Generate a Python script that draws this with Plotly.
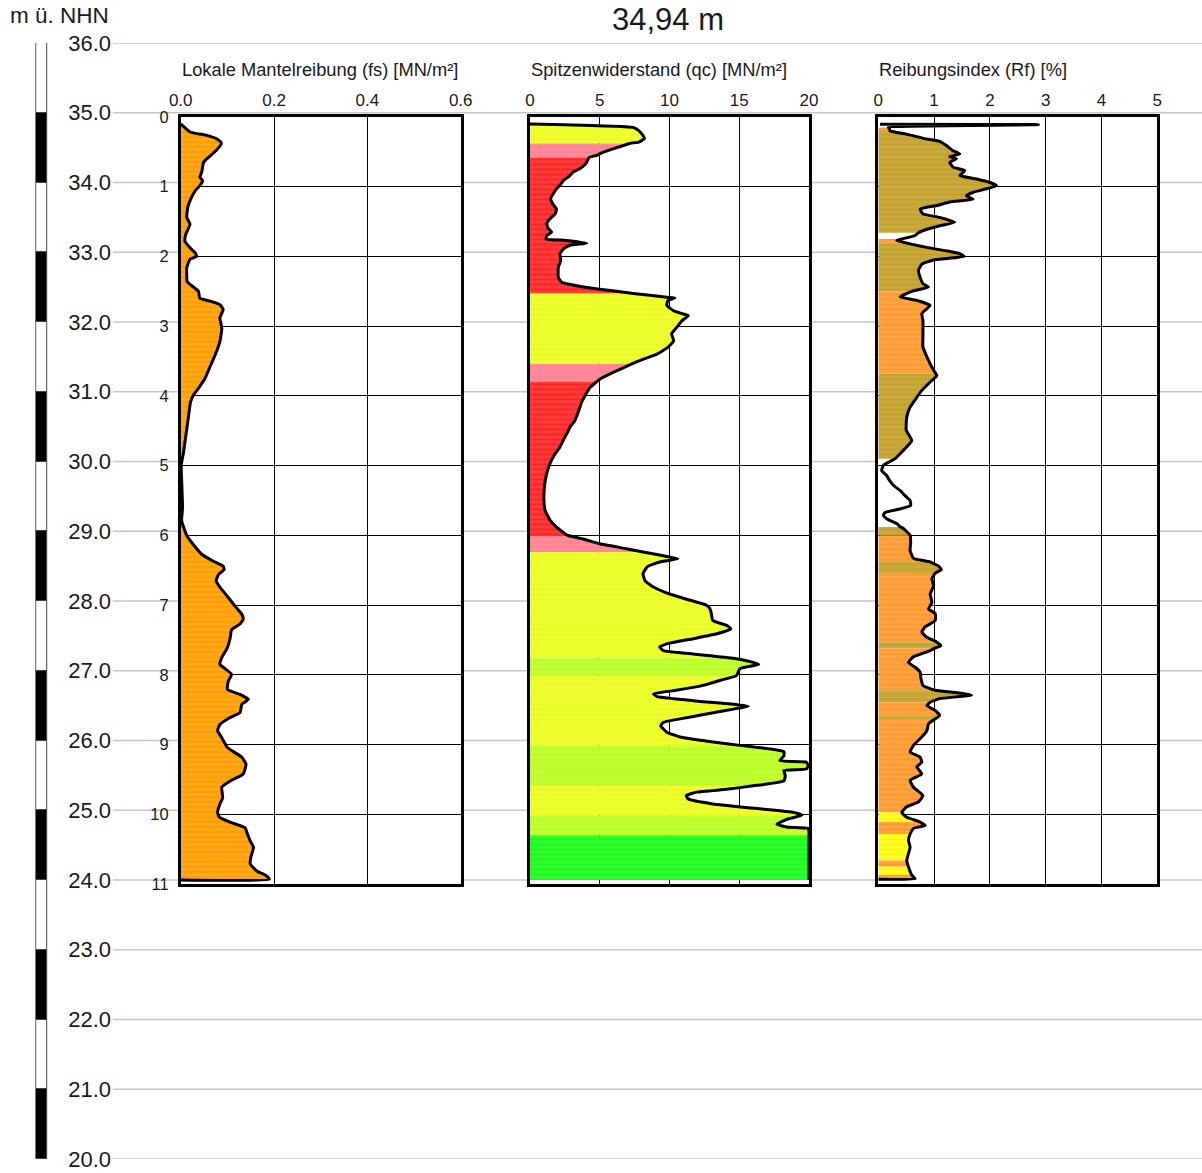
import plotly.graph_objects as go

W, H = 1202, 1173
FONT = "Liberation Sans, Arial, sans-serif"
TXT = "#1a1a1a"

# ---------------- data ----------------
ground_elev = 34.94
max_depth = 11
elev_ticks = list(range(20, 37))
scale_bases = list(range(35, 19, -1))          # 1 m segments 36-35 ... 21-20
scale_colors = ["white" if i % 2 == 0 else "black" for i in range(len(scale_bases))]
depth_ticks = list(range(0, 12))

fs_ticks = [0.0, 0.2, 0.4, 0.6]
qc_ticks = [0, 5, 10, 15, 20]
rf_ticks = [0, 1, 2, 3, 4, 5]

fs_depth = [0.10, 0.216, 0.264, 0.313, 0.36, 0.385, 0.48, 0.60, 0.65, 0.79, 0.865, 0.913, 0.986, 1.058,
            1.20, 1.30, 1.44, 1.54, 1.68, 1.78, 1.875, 1.95, 2.0, 2.04, 2.16, 2.36, 2.40, 2.50, 2.60,
            2.64, 2.69, 2.76, 2.88, 3.03, 3.22, 3.41, 3.61, 3.75, 3.89, 3.99, 4.09, 4.33, 4.57, 4.81,
            5.0, 5.2, 5.4, 5.6, 5.79, 6.0, 6.13, 6.27, 6.37, 6.44, 6.49, 6.56, 6.65, 6.75, 6.89, 7.01,
            7.13, 7.20, 7.27, 7.35, 7.47, 7.61, 7.75, 7.85, 7.89, 7.99, 8.09, 8.21, 8.28, 8.35, 8.42,
            8.54, 8.61, 8.71, 8.80, 8.90, 9.04, 9.18, 9.28, 9.42, 9.52, 9.61, 9.76, 9.85, 9.97, 10.04,
            10.11, 10.19, 10.28, 10.38, 10.47, 10.62, 10.71, 10.81, 10.88, 10.93, 10.94]
fs_val = [0.0, 0.02, 0.056, 0.077, 0.086, 0.087, 0.076, 0.056, 0.049, 0.045, 0.041, 0.047, 0.041, 0.031,
          0.02, 0.015, 0.013, 0.02, 0.011, 0.009, 0.02, 0.031, 0.034, 0.02, 0.013, 0.014, 0.02, 0.038, 0.041,
          0.063, 0.084, 0.091, 0.084, 0.088, 0.084, 0.074, 0.061, 0.052, 0.038, 0.027, 0.021, 0.016, 0.011, 0.006,
          0.001, 0.002, 0.003, 0.004, 0.002, 0.013, 0.027, 0.045, 0.07, 0.091, 0.093, 0.081, 0.076, 0.085, 0.102, 0.116,
          0.131, 0.134, 0.127, 0.109, 0.106, 0.1, 0.088, 0.084, 0.091, 0.109, 0.102, 0.1, 0.127, 0.145, 0.131,
          0.127, 0.106, 0.084, 0.079, 0.088, 0.1, 0.131, 0.14, 0.134, 0.106, 0.088, 0.09, 0.084, 0.079, 0.083,
          0.106, 0.138, 0.143, 0.149, 0.156, 0.15, 0.149, 0.163, 0.184, 0.19, 0.0]

qc_depth = [0.10, 0.15, 0.19, 0.24, 0.31, 0.36, 0.38, 0.455, 0.52, 0.55, 0.58, 0.67, 0.74, 0.79, 0.86, 0.91,
            0.98, 1.03, 1.10, 1.17, 1.245, 1.32, 1.39, 1.46, 1.53, 1.60, 1.65, 1.70, 1.75, 1.77, 1.81, 1.84,
            1.89, 1.96, 2.06, 2.15, 2.30, 2.37, 2.42, 2.47, 2.53, 2.585, 2.595, 2.63, 2.70, 2.78, 2.82, 2.85,
            2.92, 3.02, 3.11, 3.21, 3.30, 3.40, 3.49, 3.54, 3.66, 3.76, 3.80, 3.88, 4.0, 4.09, 4.21, 4.36,
            4.445, 4.50, 4.59, 4.73, 4.83, 4.97, 5.11, 5.31, 5.50, 5.64, 5.78, 5.88, 6.00, 6.05, 6.12, 6.19,
            6.24, 6.31, 6.335, 6.38, 6.45, 6.55, 6.65, 6.74, 6.84, 6.93, 7.0, 7.05, 7.12, 7.22, 7.29, 7.34,
            7.41, 7.48, 7.555, 7.60, 7.65, 7.70, 7.76, 7.82, 7.85, 7.91, 8.01, 8.08, 8.15, 8.22, 8.27, 8.31,
            8.34, 8.38, 8.42, 8.45, 8.49, 8.56, 8.63, 8.68, 8.73, 8.82, 8.89, 8.97, 9.01, 9.06, 9.10, 9.16,
            9.23, 9.25, 9.30, 9.35, 9.37, 9.445, 9.52, 9.59, 9.64, 9.68, 9.73, 9.78, 9.85, 9.92, 9.97, 10.01,
            10.07, 10.14, 10.18, 10.20, 10.25, 10.30, 10.94]
qc_val = [0.0, 7.4, 7.75, 8.0, 8.2, 7.8, 7.15, 6.0, 5.1, 4.8, 4.25, 4.0, 3.6, 3.1, 2.75, 2.4,
          2.15, 1.9, 1.67, 1.48, 1.62, 1.9, 1.8, 1.43, 1.2, 1.31, 1.55, 1.2, 1.15, 2.6, 4.06, 2.87,
          2.4, 2.15, 2.2, 2.03, 2.03, 2.27, 3.35, 5.0, 7.4, 9.8, 10.4, 9.9, 9.8, 10.3, 10.9, 11.35,
          10.9, 10.5, 10.15, 10.3, 9.9, 9.1, 7.9, 7.3, 6.0, 5.0, 4.75, 4.3, 3.94, 3.7, 3.5, 3.2,
          2.87, 2.75, 2.5, 2.15, 1.8, 1.43, 1.2, 1.03, 1.0, 1.08, 1.43, 1.9, 2.7, 3.8, 5.0, 6.9,
          8.2, 10.0, 10.6, 9.3, 8.4, 8.1, 8.25, 8.85, 10.0, 11.5, 12.65, 12.9, 13.0, 13.1, 14.1, 14.4,
          13.4, 11.7, 9.8, 9.3, 9.56, 11.7, 14.6, 16.0, 16.4, 15.05, 14.8, 13.6, 12.4, 10.5, 8.85, 9.1,
          10.3, 12.2, 14.6, 15.65, 14.6, 12.65, 10.75, 9.56, 9.37, 9.8, 10.75, 13.4, 15.05, 17.2, 18.2, 18.2,
          17.9, 19.8, 19.95, 19.8, 18.2, 18.3, 18.2, 16.0, 14.1, 11.95, 11.2, 11.35, 13.1, 16.5, 18.9, 19.5,
          18.4, 17.7, 18.4, 19.95, 20.0, 20.0, 20.0]

rf_depth = [0.105, 0.11, 0.15, 0.17, 0.20, 0.246, 0.317, 0.35, 0.41, 0.485, 0.53, 0.57, 0.60, 0.65, 0.72,
            0.77, 0.84, 0.89, 0.94, 0.986, 1.03, 1.08, 1.13, 1.18, 1.22, 1.27, 1.32, 1.39, 1.44, 1.51, 1.56,
            1.61, 1.66, 1.70, 1.75, 1.77, 1.82, 1.87, 1.92, 1.96, 2.0, 2.05, 2.11, 2.20, 2.30, 2.39, 2.44,
            2.50, 2.58, 2.63, 2.70, 2.75, 2.82, 2.92, 3.11, 3.30, 3.49, 3.59, 3.68, 3.71, 3.80, 3.92, 4.02,
            4.16, 4.30, 4.49, 4.64, 4.73, 4.83, 4.90, 4.995, 5.07, 5.14, 5.21, 5.28, 5.355, 5.43, 5.50, 5.57,
            5.62, 5.67, 5.71, 5.76, 5.83, 5.88, 5.90, 6.0, 6.10, 6.215, 6.33, 6.38, 6.44, 6.49, 6.54, 6.62,
            6.72, 6.84, 6.96, 7.055, 7.12, 7.22, 7.31, 7.385, 7.46, 7.53, 7.58, 7.62, 7.65, 7.74, 7.82, 7.89,
            7.96, 8.03, 8.15, 8.22, 8.26, 8.29, 8.34, 8.39, 8.44, 8.51, 8.58, 8.63, 8.70, 8.80, 8.89, 9.01,
            9.105, 9.18, 9.25, 9.32, 9.42, 9.51, 9.61, 9.73, 9.82, 9.89, 9.97, 10.04, 10.11, 10.16, 10.20,
            10.28, 10.37, 10.47, 10.56, 10.66, 10.75, 10.87, 10.92, 10.93]
rf_val = [0.03, 2.87, 0.18, 0.2, 0.21, 0.5, 0.87, 1.1, 1.22, 1.34, 1.46, 1.28, 1.4, 1.28, 1.34,
          1.55, 1.46, 1.76, 2.0, 2.12, 1.94, 1.7, 1.58, 1.7, 1.28, 1.05, 0.75, 0.8, 1.1, 1.37, 1.1,
          0.87, 0.72, 0.66, 0.42, 0.33, 0.57, 0.87, 1.22, 1.46, 1.54, 0.99, 0.78, 0.72, 0.75, 0.8, 0.9,
          0.6, 0.39, 0.69, 0.93, 0.87, 0.78, 0.8, 0.8, 0.8, 0.9, 0.96, 1.03, 1.05, 0.93, 0.78, 0.69,
          0.57, 0.51, 0.5, 0.6, 0.51, 0.39, 0.3, 0.09, 0.06, 0.15, 0.2, 0.27, 0.39, 0.48, 0.57, 0.58,
          0.39, 0.12, 0.09, 0.15, 0.33, 0.4, 0.45, 0.57, 0.58, 0.57, 0.63, 0.93, 1.08, 1.13, 1.02, 0.96,
          0.99, 0.93, 0.96, 0.9, 1.02, 1.02, 0.84, 0.78, 0.87, 1.05, 1.12, 1.0, 0.93, 0.63, 0.54, 0.66,
          0.75, 0.76, 0.8, 1.02, 1.46, 1.67, 1.1, 0.93, 0.87, 1.02, 1.1, 1.02, 0.9, 0.87, 0.78, 0.63,
          0.57, 0.75, 0.78, 0.69, 0.78, 0.57, 0.63, 0.8, 0.72, 0.51, 0.42, 0.51, 0.75, 0.84, 0.63,
          0.57, 0.54, 0.57, 0.54, 0.51, 0.54, 0.6, 0.66, 0.0]

# soil layers (top depth, bottom depth, colour key) - boundaries are read depths
fs_layers = [(0.10, 10.94, "orange1")]
qc_layers = [(0.10, 0.38, "yellow"), (0.38, 0.58, "pink"), (0.58, 2.53, "red"), (2.53, 3.54, "yellow"),
             (3.54, 3.80, "pink"), (3.80, 6.00, "red"), (6.00, 6.24, "pink"), (6.24, 7.76, "yellow"),
             (7.76, 8.01, "ygreen"), (8.01, 9.01, "yellow"), (9.01, 9.59, "ygreen"), (9.59, 10.01, "yellow"),
             (10.01, 10.30, "ygreen"), (10.30, 10.94, "green")]
rf_layers = [(0.15, 0.20, "orange3"), (0.20, 1.66, "olive"), (1.75, 1.82, "orange3"), (1.82, 2.50, "olive"),
             (2.50, 3.68, "orange3"), (3.68, 4.90, "olive"), (5.88, 6.00, "olive"), (6.00, 6.38, "orange3"),
             (6.38, 6.54, "olive"), (6.54, 7.53, "orange3"), (7.53, 7.62, "olive"), (7.62, 8.22, "orange3"),
             (8.22, 8.39, "olive"), (8.39, 8.58, "orange3"), (8.58, 8.63, "olive"), (8.63, 9.97, "orange3"),
             (9.97, 10.11, "yellow3"), (10.11, 10.28, "orange3"), (10.28, 10.66, "yellow3"),
             (10.66, 10.75, "orange3"), (10.75, 10.87, "yellow3"), (10.87, 10.92, "orange3")]

layer_colors = {
    "orange1": ("#FF9F00", "#FFBA5C"),
    "yellow": ("#EEFF33", "#E4FA10"),
    "pink": ("#FF8494", "#FF9AA8"),
    "red": ("#FF3C3C", "#FF0A0A"),
    "ygreen": ("#C2FF33", "#B2F51E"),
    "green": ("#2CFF2C", "#14EE14"),
    "olive": ("#C9A93E", "#B89A12"),
    "orange3": ("#FFA445", "#FF8C0A"),
    "yellow3": ("#FFFF22", "#FFE600"),
}

panels = [
    dict(title="Lokale Mantelreibung (fs) [MN/m²]", depth=fs_depth, val=fs_val, layers=fs_layers,
         rng=[0, 0.6], ticks=fs_ticks, fmt=".1f", px=(180.7, 460.7)),
    dict(title="Spitzenwiderstand (qc) [MN/m²]", depth=qc_depth, val=qc_val, layers=qc_layers,
         rng=[0, 20], ticks=qc_ticks, fmt="d", px=(530.0, 809.0)),
    dict(title="Reibungsindex (Rf) [%]", depth=rf_depth, val=rf_val, layers=rf_layers,
         rng=[0, 5], ticks=rf_ticks, fmt="d", px=(878.3, 1157.3)),
]

# ---------------- figure ----------------
M_TOP, M_BOT = 43, 14
PLOT_H = H - M_TOP - M_BOT
elev_min, elev_max = min(elev_ticks), max(elev_ticks)


def py(pix):
    """pixel row -> paper y"""
    return (H - M_BOT - pix) / PLOT_H


fig = go.Figure()

# elevation scale bar
fig.add_trace(go.Bar(x=[0] * len(scale_bases), y=[1] * len(scale_bases), base=scale_bases,
                     width=1, marker=dict(color=scale_colors, line=dict(color="#444", width=1)),
                     xaxis="x5", yaxis="y", showlegend=False, hoverinfo="skip", cliponaxis=False))
# dummy trace to hold the elevation axis
fig.add_trace(go.Scatter(x=[None], y=[None], xaxis="x", yaxis="y", showlegend=False))

shapes = []
for e in elev_ticks:
    shapes.append(dict(type="line", xref="paper", yref="y", x0=113 / W, x1=1, y0=e, y1=e,
                       line=dict(color="#C6C6C6", width=1.5), layer="below"))

dom_y = [(ground_elev - max_depth - elev_min) / (elev_max - elev_min),
         (ground_elev - elev_min) / (elev_max - elev_min)]

annotations = []
for i, p in enumerate(panels):
    k = i + 2
    xa, ya = f"x{k}", f"y{k}"
    # coloured fill per soil layer
    d, v = p["depth"], p["val"]
    for (top, bot, key) in p["layers"]:
        idx = [j for j in range(len(d)) if top - 1e-9 <= d[j] <= bot + 1e-9]
        xs = [0] + [v[j] for j in idx] + [0]
        ys = [d[idx[0]]] + [d[j] for j in idx] + [d[idx[-1]]]
        base, stripe = layer_colors[key]
        fig.add_trace(go.Scatter(x=xs, y=ys, xaxis=xa, yaxis=ya, mode="lines", fill="toself",
                                 fillcolor=base, line=dict(width=0), showlegend=False, hoverinfo="skip",
                                 fillpattern=dict(shape="-", bgcolor=base, fgcolor=stripe, size=5,
                                                  solidity=0.35)))
    # curve
    fig.add_trace(go.Scatter(x=v, y=d, xaxis=xa, yaxis=ya, mode="lines",
                             line=dict(color="black", width=3, shape="spline", smoothing=0.4),
                             showlegend=False))
    # white panel background
    shapes.append(dict(type="rect", xref=xa, yref=ya, x0=p["rng"][0], x1=p["rng"][1], y0=0, y1=max_depth,
                       fillcolor="white", line=dict(width=0), layer="below"))
    x0p, x1p = p["px"]
    fig.update_layout(**{
        f"xaxis{k}": dict(domain=[x0p / W, x1p / W], range=p["rng"], anchor=ya, side="top",
                          tickvals=p["ticks"], tickformat=p["fmt"], showgrid=True, gridcolor="black",
                          gridwidth=1.3, zeroline=False, showline=True, mirror=True, linecolor="black",
                          linewidth=2.6, ticks="", ticklabelstandoff=1, automargin=False,
                          tickfont=dict(family=FONT, size=17, color=TXT)),
        f"yaxis{k}": dict(domain=dom_y, range=[max_depth, 0], anchor=xa, tickvals=depth_ticks,
                          showgrid=True, gridcolor="black", gridwidth=1.3, zeroline=False, showline=True,
                          mirror=True, linecolor="black", linewidth=2.6, ticks="", automargin=False,
                          showticklabels=(i == 0), ticklabelstandoff=6,
                          tickfont=dict(family=FONT, size=16.5, color=TXT)),
    })
    annotations.append(dict(text=p["title"], xref="paper", yref="paper", x=(x0p - 1) / W, y=py(70),
                            xanchor="left", yanchor="middle", showarrow=False,
                            font=dict(family=FONT, size=18.3, color=TXT)))

annotations.append(dict(text="m ü. NHN", xref="paper", yref="paper", x=8 / W, y=py(15),
                        xanchor="left", yanchor="middle", showarrow=False,
                        font=dict(family=FONT, size=22.5, color=TXT)))
annotations.append(dict(text="34,94 m", xref="paper", yref="paper", x=668 / W, y=py(20),
                        xanchor="center", yanchor="middle", showarrow=False,
                        font=dict(family=FONT, size=31, color=TXT)))

fig.update_layout(
    width=W, height=H, margin=dict(l=0, r=0, t=M_TOP, b=M_BOT, pad=0, autoexpand=False),
    paper_bgcolor="white", plot_bgcolor="rgba(0,0,0,0)",
    showlegend=False,
    xaxis=dict(domain=[113 / W, 1], range=[0, 1], visible=False, anchor="y", automargin=False),
    yaxis=dict(domain=[0, 1], range=[elev_min, elev_max], anchor="x", tickvals=elev_ticks,
               ticktext=[f"{t:.1f}" for t in elev_ticks], showgrid=False, zeroline=False, ticks="",
               automargin=False, ticklabelstandoff=1, tickfont=dict(family=FONT, size=22, color=TXT)),
    xaxis5=dict(domain=[35.2 / W, 48.8 / W], range=[-0.6, 0.6], visible=False, anchor="y"),
    bargap=0,
    shapes=shapes,
    annotations=annotations,
)

fig.write_html("out.html")
